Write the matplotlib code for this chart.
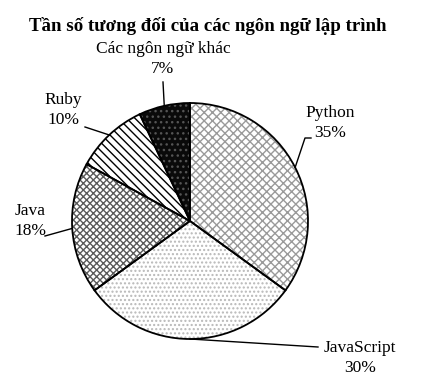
import numpy as np
import matplotlib
matplotlib.use("Agg")
import matplotlib.pyplot as plt

title = "Tần số tương đối của các ngôn ngữ lập trình"
languages = ["Python", "JavaScript", "Java", "Ruby", "Các ngôn ngữ khác"]
percents = [35, 30, 18, 10, 7]

# styles (not data)
faces = ["white", "white", "white", "white", "#0a0a0a"]
hatches = ["xxxx", "....", "xxxxx", "\\\\\\\\", "..."]
hatch_cols = ["#9a9a9a", "#b8b8b8", "#5a5a5a", "black", "#555555"]

W, H = 439, 381
plt.rcParams['font.family'] = ['Liberation Serif', 'DejaVu Serif']
plt.rcParams['hatch.linewidth'] = 1.0

fig = plt.figure(figsize=(W / 100, H / 100), dpi=100)
ax = fig.add_axes([0, 0, 1, 1])

def P(x, y):
    return (x, H - y)

cx, cy = P(190, 221)
R = 118

wedges, _ = ax.pie(percents, startangle=90, counterclock=False, radius=R,
                   center=(cx, cy), colors=faces,
                   wedgeprops=dict(linewidth=0))
for w, h, hc in zip(wedges, hatches, hatch_cols):
    w.set_hatch(h)
    w.set_edgecolor(hc)
    w.set_linewidth(0)

outline, _ = ax.pie(percents, startangle=90, counterclock=False, radius=R,
                    center=(cx, cy),
                    wedgeprops=dict(fill=False, edgecolor="black", linewidth=1.3))

# label layout (positions in pixel coords of the image)
label_pos = [(330, 123), (360, 358), (30, 221), (63, 110), (163, 59)]
leader_end = [[(311, 138), (305, 138)], [(318, 347)], [(45, 236)], [(85, 127)], [(163, 82)]]

for w, lab, pct, lp, le in zip(outline, languages, percents, label_pos, leader_end):
    mid = np.deg2rad((w.theta1 + w.theta2) / 2)
    ex, ey = cx + R * np.cos(mid), cy + R * np.sin(mid)
    pts = [(ex, ey)] + [P(*p) for p in reversed(le)]
    xs, ys = zip(*pts)
    ax.plot(xs, ys, color="black", linewidth=1.0)
    tx, ty = P(*lp)
    ax.text(tx, ty, f"{lab}\n{pct}%", ha="center", va="center",
            fontsize=12.5, linespacing=1.3)

ax.text(*P(208, 26), title, ha="center", va="center", fontsize=13.6,
        fontweight="bold")

ax.set_xlim(0, W)
ax.set_ylim(0, H)
ax.set_aspect("equal")
ax.axis("off")
fig.savefig("out.png", dpi=100)
